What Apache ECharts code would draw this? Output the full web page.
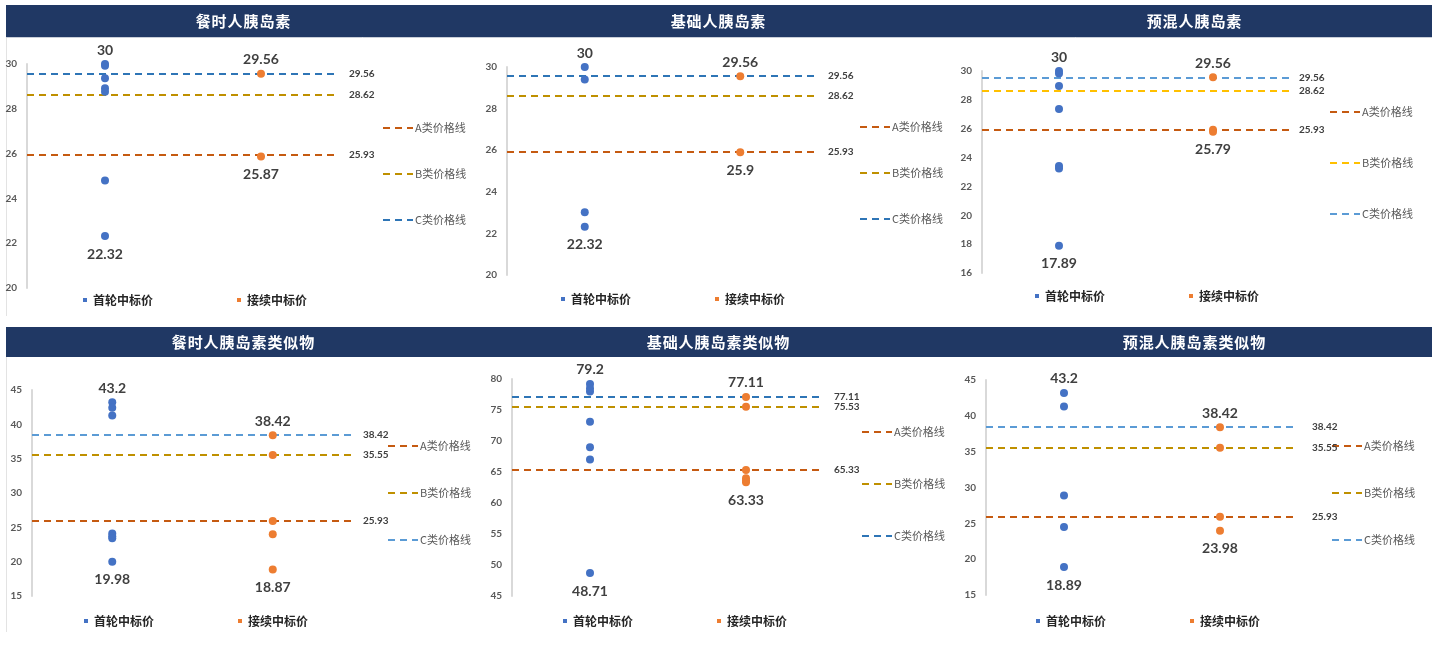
<!DOCTYPE html>
<html>
<head>
<meta charset="utf-8">
<title>胰岛素中标价</title>
<script src="https://cdn.jsdelivr.net/npm/echarts@6/dist/echarts.min.js"></script>
<style>
  html, body { margin: 0; padding: 0; background: #ffffff; }
  #chart { width: 1439px; height: 653px; }
</style>
</head>
<body>
<div id="chart"></div>
<script>
// ---- data ----
const panelTitles = ['餐时人胰岛素', '基础人胰岛素', '预混人胰岛素',
                     '餐时人胰岛素类似物', '基础人胰岛素类似物', '预混人胰岛素类似物'];
const categories = ['首轮中标价', '接续中标价'];
const lineNames = ['A类价格线', 'B类价格线', 'C类价格线'];

// first-round winning prices per panel
const firstRound = [
  [30, 29.92, 29.36, 28.92, 28.76, 24.8, 22.32],
  [30, 29.4, 23.02, 22.32],
  [30, 29.82, 28.96, 27.37, 23.42, 23.24, 17.89],
  [43.2, 42.4, 41.3, 24.1, 23.7, 23.4, 19.98],
  [79.2, 78.5, 78.0, 73.1, 69.0, 67.0, 48.71],
  [43.2, 41.3, 28.9, 24.5, 18.89]
];
// renewal winning prices per panel
const renewal = [
  [29.56, 25.87],
  [29.56, 25.9],
  [29.56, 25.93, 25.79],
  [38.42, 35.55, 25.93, 24.0, 18.87],
  [77.11, 75.53, 65.33, 64.0, 63.6, 63.33],
  [38.42, 35.55, 25.93, 23.98]
];
// reference price lines
const priceA = [25.93, 25.93, 25.93, 25.93, 65.33, 25.93];
const priceB = [28.62, 28.62, 28.62, 35.55, 75.53, 35.55];
const priceC = [29.56, 29.56, 29.56, 38.42, 77.11, 38.42];

// y-axis ticks
const yMin = [20, 20, 16, 15, 45, 15];
const yMax = [30, 30, 30, 45, 80, 45];
const yStep = [2, 2, 2, 5, 5, 5];

// ---- layout & style ----
const grids = [
  { left: 27,  top: 64,  width: 312, height: 224 },
  { left: 507, top: 67,  width: 311, height: 208 },
  { left: 982, top: 71,  width: 308, height: 202 },
  { left: 32,  top: 390, width: 321, height: 206 },
  { left: 512, top: 379, width: 312, height: 217 },
  { left: 986, top: 380, width: 312, height: 215 }
];
const titleCenters = [[243, 21], [718, 21], [1194, 21], [243, 342], [718, 342], [1194, 342]];
// centre of first item and spacing between item centres
const sideLegends = [
  { left: 383,  mid: 128, step: 46 },
  { left: 860,  mid: 127, step: 46 },
  { left: 1330, mid: 112, step: 51 },
  { left: 388,  mid: 446, step: 47 },
  { left: 862,  mid: 432, step: 52 },
  { left: 1332, mid: 446, step: 47 }
];
const bottomLegends = [
  { left: 83,  mid: 300 }, { left: 561, mid: 299 }, { left: 1035, mid: 296 },
  { left: 84,  mid: 621 }, { left: 563, mid: 621 }, { left: 1036, mid: 621 }
];
const labelDist = [10, 10, 9, 10, 10, 14];

const BLUE = '#4472C4', ORANGE = '#ED7D31';
const DARK_BLUE = '#2E75B6', LIGHT_BLUE = '#5B9BD5';
const GOLD = '#BF9000', YELLOW = '#FFC000', RUST = '#C55A11';
const lineColors = [
  [RUST, GOLD, DARK_BLUE],
  [RUST, GOLD, DARK_BLUE],
  [RUST, YELLOW, LIGHT_BLUE],
  [RUST, GOLD, LIGHT_BLUE],
  [RUST, GOLD, DARK_BLUE],
  [RUST, GOLD, LIGHT_BLUE]
];
const NUM_FONT = 'Lato, "Noto Sans CJK SC", sans-serif';
const CJK_FONT = '"Noto Sans CJK SC", sans-serif';
// dashed-line legend glyph: three 7px dashes over 30px
const DASH_ICON = 'path://M0,0H7V2H0Z M12,0H19V2H12Z M24,0H30V2H24Z';

// series names carry a panel suffix so each legend refers to its own panel
const tag = (name, p) => name + '|' + p;
const untag = s => s.split('|')[0];

function pointData(values, catIdx) {
  const hi = Math.max(...values), lo = Math.min(...values);
  let hiDone = false, loDone = false;
  return values.map(v => {
    const item = { value: [categories[catIdx], v] };
    if (v === hi && !hiDone) {
      hiDone = true;
      item.label = { show: true, position: 'top', distance: 3 };
    } else if (v === lo && !loDone) {
      loDone = true;
      item.label = { show: true, position: 'bottom', distance: 7 };
    }
    return item;
  });
}

const option = {
  animation: false,
  backgroundColor: '#ffffff',
  grid: [], xAxis: [], yAxis: [], series: [], legend: [], graphic: []
};

// title bands and faint panel edges
option.graphic.push(
  { type: 'rect', shape: { x: 6, y: 5, width: 1426, height: 32 }, style: { fill: '#203864' }, silent: true },
  { type: 'rect', shape: { x: 6, y: 327, width: 1426, height: 30 }, style: { fill: '#203864' }, silent: true },
  { type: 'line', shape: { x1: 6.5, y1: 37, x2: 6.5, y2: 316 }, style: { stroke: '#E3E3E3', lineWidth: 1 }, silent: true },
  { type: 'line', shape: { x1: 6.5, y1: 357, x2: 6.5, y2: 632 }, style: { stroke: '#E3E3E3', lineWidth: 1 }, silent: true },
  { type: 'line', shape: { x1: 6, y1: 37.5, x2: 1432, y2: 37.5 }, style: { stroke: '#C9CED8', lineWidth: 1 }, silent: true }
);

panelTitles.forEach((t, p) => {
  option.graphic.push({
    type: 'text', x: titleCenters[p][0], y: titleCenters[p][1], z: 10, silent: true,
    style: {
      text: t.split('').join('\u200A'), fill: '#ffffff', font: 'bold 15px ' + CJK_FONT,
      textAlign: 'center', textVerticalAlign: 'middle'
    }
  });

  option.grid.push(Object.assign({ containLabel: false }, grids[p]));
  option.xAxis.push({
    gridIndex: p, type: 'category', data: categories, boundaryGap: true,
    axisLine: { show: false }, axisTick: { show: false }, axisLabel: { show: false },
    splitLine: { show: false }
  });
  option.yAxis.push({
    gridIndex: p, type: 'value', min: yMin[p], max: yMax[p], interval: yStep[p],
    axisLine: { show: true, lineStyle: { color: '#D9D9D9', width: 2 } },
    axisTick: { show: false }, splitLine: { show: false },
    axisLabel: { margin: 10, color: '#595959', fontSize: 10, fontFamily: NUM_FONT, fontWeight: 'bold' }
  });

  const pointLabel = {
    color: '#404040', fontSize: 14, fontWeight: 'bold', fontFamily: NUM_FONT,
    formatter: prm => String(prm.value[1])
  };
  option.series.push({
    name: tag(categories[0], p), type: 'scatter', xAxisIndex: p, yAxisIndex: p,
    symbolSize: 8, itemStyle: { color: BLUE, opacity: 1 }, label: pointLabel, z: 5,
    data: pointData(firstRound[p], 0)
  });
  option.series.push({
    name: tag(categories[1], p), type: 'scatter', xAxisIndex: p, yAxisIndex: p,
    symbolSize: 8, itemStyle: { color: ORANGE, opacity: 1 }, label: pointLabel, z: 5,
    data: pointData(renewal[p], 1)
  });

  const refs = [priceA[p], priceB[p], priceC[p]];
  lineNames.forEach((ln, k) => {
    const c = lineColors[p][k];
    option.series.push({
      name: tag(ln, p), type: 'line', xAxisIndex: p, yAxisIndex: p,
      data: [], symbol: 'none', color: c, z: 2,
      lineStyle: { color: c, width: 2, type: [7, 5] },
      markLine: {
        silent: true, symbol: ['none', 'none'],
        lineStyle: { color: c, width: 2, type: [7, 5] },
        label: {
          show: true, position: 'end', distance: labelDist[p],
          color: '#404040', fontSize: 10, fontWeight: 'bold', fontFamily: NUM_FONT,
          formatter: prm => String(prm.value)
        },
        data: [{ yAxis: refs[k] }]
      }
    });
  });

  // legend items render about 11px tall with this font
  const sl = sideLegends[p];
  option.legend.push({
    orient: 'vertical', left: sl.left, top: sl.mid - 5.5, padding: 0,
    icon: DASH_ICON, itemWidth: 30, itemHeight: 14, itemGap: sl.step - 11,
    data: lineNames.map(n => ({ name: tag(n, p), icon: DASH_ICON })), formatter: untag,
    selectedMode: false,
    textStyle: { color: '#595959', fontSize: 11, fontFamily: CJK_FONT, padding: [0, 0, 0, -3] }
  });
  const bl = bottomLegends[p];
  option.legend.push({
    orient: 'horizontal', left: bl.left, top: bl.mid - 6, padding: 0,
    icon: 'rect', itemWidth: 4, itemHeight: 4, itemGap: 84,
    data: categories.map(n => tag(n, p)), formatter: untag,
    selectedMode: false,
    textStyle: { color: '#262626', fontSize: 12, fontWeight: 'bold', fontFamily: CJK_FONT, padding: [0, 0, 0, 1] }
  });
});

const chart = echarts.init(document.getElementById('chart'), null, { renderer: 'canvas' });
chart.setOption(option);
</script>
</body>
</html>
